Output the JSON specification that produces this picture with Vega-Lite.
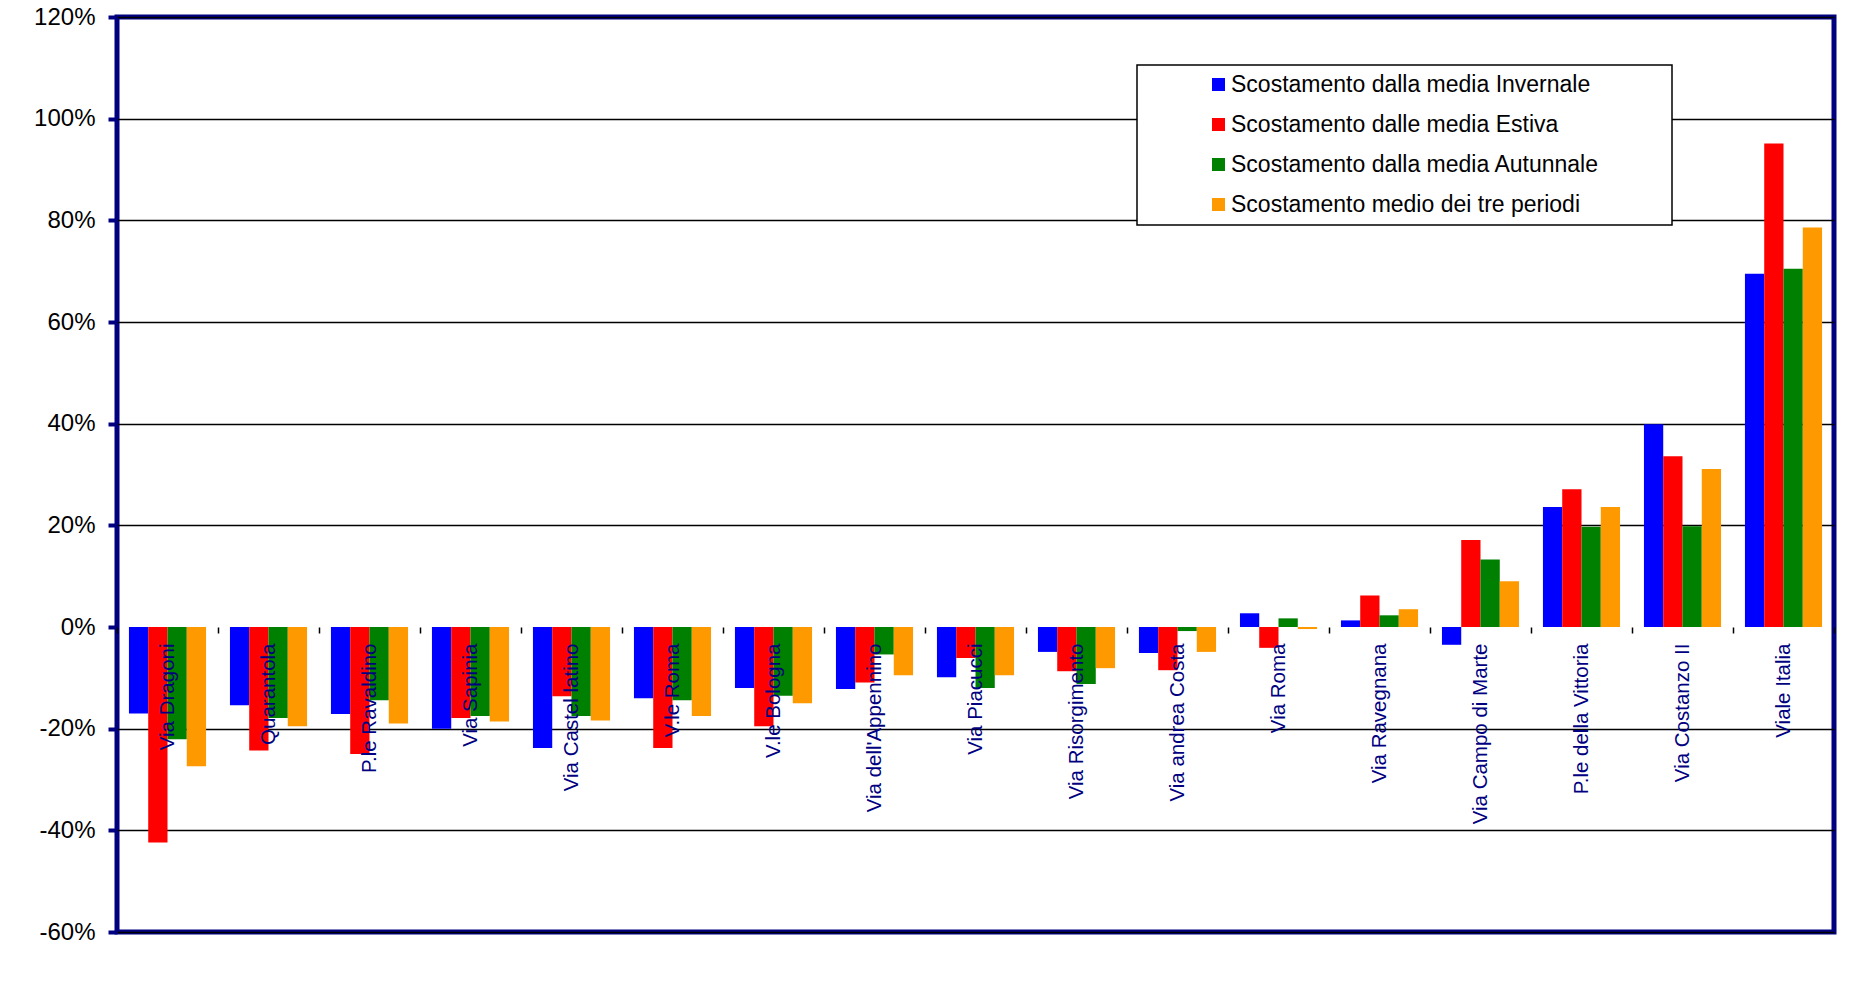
{
  "$schema": "https://vega.github.io/schema/vega-lite/v6.json",
  "width": 1717,
  "height": 915,
  "autosize": {"type": "none"},
  "padding": {"left": 117, "top": 17, "right": 17, "bottom": 71},
  "background": "white",
  "config": {
    "font": "Liberation Sans",
    "view": {"stroke": "#000080", "strokeWidth": 5},
    "legend": {"strokeWidth": 1.5}
  },
  "data": {
    "values": [
      {"luogo": "Via Dragoni", "serie": "Scostamento dalla media Invernale", "valore": -0.170},
      {"luogo": "Via Dragoni", "serie": "Scostamento dalle media Estiva", "valore": -0.424},
      {"luogo": "Via Dragoni", "serie": "Scostamento dalla media Autunnale", "valore": -0.221},
      {"luogo": "Via Dragoni", "serie": "Scostamento medio dei tre periodi", "valore": -0.274},
      {"luogo": "Quarantola", "serie": "Scostamento dalla media Invernale", "valore": -0.154},
      {"luogo": "Quarantola", "serie": "Scostamento dalle media Estiva", "valore": -0.243},
      {"luogo": "Quarantola", "serie": "Scostamento dalla media Autunnale", "valore": -0.179},
      {"luogo": "Quarantola", "serie": "Scostamento medio dei tre periodi", "valore": -0.195},
      {"luogo": "P.le Ravaldino", "serie": "Scostamento dalla media Invernale", "valore": -0.171},
      {"luogo": "P.le Ravaldino", "serie": "Scostamento dalle media Estiva", "valore": -0.250},
      {"luogo": "P.le Ravaldino", "serie": "Scostamento dalla media Autunnale", "valore": -0.144},
      {"luogo": "P.le Ravaldino", "serie": "Scostamento medio dei tre periodi", "valore": -0.190},
      {"luogo": "Via Sapinia", "serie": "Scostamento dalla media Invernale", "valore": -0.200},
      {"luogo": "Via Sapinia", "serie": "Scostamento dalle media Estiva", "valore": -0.179},
      {"luogo": "Via Sapinia", "serie": "Scostamento dalla media Autunnale", "valore": -0.175},
      {"luogo": "Via Sapinia", "serie": "Scostamento medio dei tre periodi", "valore": -0.186},
      {"luogo": "Via Castel latino", "serie": "Scostamento dalla media Invernale", "valore": -0.238},
      {"luogo": "Via Castel latino", "serie": "Scostamento dalle media Estiva", "valore": -0.136},
      {"luogo": "Via Castel latino", "serie": "Scostamento dalla media Autunnale", "valore": -0.175},
      {"luogo": "Via Castel latino", "serie": "Scostamento medio dei tre periodi", "valore": -0.184},
      {"luogo": "V.le Roma", "serie": "Scostamento dalla media Invernale", "valore": -0.140},
      {"luogo": "V.le Roma", "serie": "Scostamento dalle media Estiva", "valore": -0.238},
      {"luogo": "V.le Roma", "serie": "Scostamento dalla media Autunnale", "valore": -0.144},
      {"luogo": "V.le Roma", "serie": "Scostamento medio dei tre periodi", "valore": -0.175},
      {"luogo": "V.le Bologna", "serie": "Scostamento dalla media Invernale", "valore": -0.120},
      {"luogo": "V.le Bologna", "serie": "Scostamento dalle media Estiva", "valore": -0.195},
      {"luogo": "V.le Bologna", "serie": "Scostamento dalla media Autunnale", "valore": -0.135},
      {"luogo": "V.le Bologna", "serie": "Scostamento medio dei tre periodi", "valore": -0.150},
      {"luogo": "Via dell'Appennino", "serie": "Scostamento dalla media Invernale", "valore": -0.122},
      {"luogo": "Via dell'Appennino", "serie": "Scostamento dalle media Estiva", "valore": -0.109},
      {"luogo": "Via dell'Appennino", "serie": "Scostamento dalla media Autunnale", "valore": -0.054},
      {"luogo": "Via dell'Appennino", "serie": "Scostamento medio dei tre periodi", "valore": -0.095},
      {"luogo": "Via Piacucci", "serie": "Scostamento dalla media Invernale", "valore": -0.099},
      {"luogo": "Via Piacucci", "serie": "Scostamento dalle media Estiva", "valore": -0.061},
      {"luogo": "Via Piacucci", "serie": "Scostamento dalla media Autunnale", "valore": -0.120},
      {"luogo": "Via Piacucci", "serie": "Scostamento medio dei tre periodi", "valore": -0.095},
      {"luogo": "Via Risorgimento", "serie": "Scostamento dalla media Invernale", "valore": -0.049},
      {"luogo": "Via Risorgimento", "serie": "Scostamento dalle media Estiva", "valore": -0.087},
      {"luogo": "Via Risorgimento", "serie": "Scostamento dalla media Autunnale", "valore": -0.112},
      {"luogo": "Via Risorgimento", "serie": "Scostamento medio dei tre periodi", "valore": -0.081},
      {"luogo": "Via andrea Costa", "serie": "Scostamento dalla media Invernale", "valore": -0.051},
      {"luogo": "Via andrea Costa", "serie": "Scostamento dalle media Estiva", "valore": -0.085},
      {"luogo": "Via andrea Costa", "serie": "Scostamento dalla media Autunnale", "valore": -0.008},
      {"luogo": "Via andrea Costa", "serie": "Scostamento medio dei tre periodi", "valore": -0.049},
      {"luogo": "Via Roma", "serie": "Scostamento dalla media Invernale", "valore": 0.027},
      {"luogo": "Via Roma", "serie": "Scostamento dalle media Estiva", "valore": -0.041},
      {"luogo": "Via Roma", "serie": "Scostamento dalla media Autunnale", "valore": 0.017},
      {"luogo": "Via Roma", "serie": "Scostamento medio dei tre periodi", "valore": -0.004},
      {"luogo": "Via Ravegnana", "serie": "Scostamento dalla media Invernale", "valore": 0.013},
      {"luogo": "Via Ravegnana", "serie": "Scostamento dalle media Estiva", "valore": 0.062},
      {"luogo": "Via Ravegnana", "serie": "Scostamento dalla media Autunnale", "valore": 0.023},
      {"luogo": "Via Ravegnana", "serie": "Scostamento medio dei tre periodi", "valore": 0.035},
      {"luogo": "Via Campo di Marte", "serie": "Scostamento dalla media Invernale", "valore": -0.035},
      {"luogo": "Via Campo di Marte", "serie": "Scostamento dalle media Estiva", "valore": 0.171},
      {"luogo": "Via Campo di Marte", "serie": "Scostamento dalla media Autunnale", "valore": 0.133},
      {"luogo": "Via Campo di Marte", "serie": "Scostamento medio dei tre periodi", "valore": 0.090},
      {"luogo": "P.le della Vittoria", "serie": "Scostamento dalla media Invernale", "valore": 0.236},
      {"luogo": "P.le della Vittoria", "serie": "Scostamento dalle media Estiva", "valore": 0.271},
      {"luogo": "P.le della Vittoria", "serie": "Scostamento dalla media Autunnale", "valore": 0.197},
      {"luogo": "P.le della Vittoria", "serie": "Scostamento medio dei tre periodi", "valore": 0.236},
      {"luogo": "Via Costanzo II", "serie": "Scostamento dalla media Invernale", "valore": 0.399},
      {"luogo": "Via Costanzo II", "serie": "Scostamento dalle media Estiva", "valore": 0.336},
      {"luogo": "Via Costanzo II", "serie": "Scostamento dalla media Autunnale", "valore": 0.198},
      {"luogo": "Via Costanzo II", "serie": "Scostamento medio dei tre periodi", "valore": 0.311},
      {"luogo": "Viale Italia", "serie": "Scostamento dalla media Invernale", "valore": 0.695},
      {"luogo": "Viale Italia", "serie": "Scostamento dalle media Estiva", "valore": 0.951},
      {"luogo": "Viale Italia", "serie": "Scostamento dalla media Autunnale", "valore": 0.705},
      {"luogo": "Viale Italia", "serie": "Scostamento medio dei tre periodi", "valore": 0.786}
    ]
  },
  "mark": {"type": "bar"},
  "encoding": {
    "x": {
      "field": "luogo",
      "type": "nominal",
      "sort": null,
      "scale": {"paddingInner": 0, "paddingOuter": 0},
      "axis": {
        "title": null,
        "orient": "bottom",
        "offset": -305,
        "domain": false,
        "grid": false,
        "ticks": true,
        "tickBand": "extent",
        "tickColor": "black",
        "tickWidth": 1.5,
        "tickSize": 6,
        "labelAngle": 270,
        "labelAlign": "right",
        "labelBaseline": "middle",
        "labelPadding": 10,
        "labelColor": "#000080",
        "labelFont": "Liberation Sans",
        "labelFontSize": 20.5,
        "labelOverlap": false,
        "labelLimit": 400,
        "zindex": 1
      }
    },
    "xOffset": {
      "field": "serie",
      "type": "nominal",
      "sort": [
        "Scostamento dalla media Invernale",
        "Scostamento dalle media Estiva",
        "Scostamento dalla media Autunnale",
        "Scostamento medio dei tre periodi"
      ],
      "scale": {"paddingInner": 0, "paddingOuter": 0.62}
    },
    "y": {
      "field": "valore",
      "type": "quantitative",
      "scale": {"domain": [-0.6, 1.2], "nice": false, "zero": false},
      "axis": {
        "title": null,
        "values": [-0.6, -0.4, -0.2, 0, 0.2, 0.4, 0.6, 0.8, 1.0, 1.2],
        "labelExpr": "round(datum.value * 100) + '%'",
        "domain": false,
        "tickColor": "#000080",
        "tickWidth": 4,
        "tickSize": 9,
        "labelPadding": 13,
        "labelColor": "black",
        "labelFont": "Liberation Sans",
        "labelFontSize": 24,
        "grid": true,
        "gridColor": "black",
        "gridWidth": 1.5,
        "gridOpacity": {"condition": {"test": "datum.value === 0", "value": 0}, "value": 1}
      }
    },
    "color": {
      "field": "serie",
      "type": "nominal",
      "scale": {
        "domain": [
          "Scostamento dalla media Invernale",
          "Scostamento dalle media Estiva",
          "Scostamento dalla media Autunnale",
          "Scostamento medio dei tre periodi"
        ],
        "range": ["#0000FF", "#FF0000", "#008000", "#FF9900"]
      },
      "legend": {
        "title": null,
        "orient": "none",
        "legendX": 1020,
        "legendY": 48,
        "direction": "vertical",
        "fillColor": "white",
        "strokeColor": "black",
        "padding": 8,
        "symbolType": "square",
        "symbolSize": 169,
        "symbolStrokeWidth": 0,
        "symbolOpacity": 1,
        "symbolOffset": 62,
        "labelOffset": 1,
        "labelFont": "Liberation Sans",
        "labelFontSize": 23,
        "labelColor": "black",
        "labelLimit": 800,
        "labelExpr": "datum.label + '\u00a0\u00a0\u00a0\u00a0\u00a0\u00a0\u00a0\u00a0\u00a0\u00a0\u200b'",
        "rowPadding": 16
      }
    }
  }
}
